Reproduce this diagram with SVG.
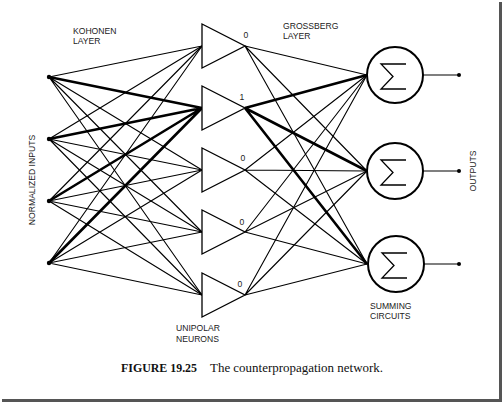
<svg xmlns="http://www.w3.org/2000/svg" width="503" height="403" viewBox="0 0 503 403">
<style>
.w{stroke:#000;stroke-width:1.1;fill:none}
.k{stroke:#000;stroke-width:2.6;fill:none}
.tri{fill:#fff;stroke:#000;stroke-width:1.3}
.sum{fill:#fff;stroke:#000;stroke-width:2}
.sig{fill:none;stroke:#000;stroke-width:1.3}
.lab{font-family:"Liberation Sans",Arial,sans-serif;font-size:8.6px;fill:#222}
.num{font-family:"Liberation Sans",Arial,sans-serif;font-size:8.6px;fill:#222;text-anchor:middle}
.cap{font-family:"Liberation Serif","Times New Roman",serif;font-size:12px;fill:#111}
</style>
<rect width="503" height="403" fill="#fff"/>
<g id="connectors">
<path class="w" d="M49,77L202,46M49,77L202,170M49,77L202,232M49,77L202,295"/>
<path class="w" d="M49,139L202,46M49,139L202,170M49,139L202,232M49,139L202,295"/>
<path class="w" d="M49,201L202,46M49,201L202,170M49,201L202,232M49,201L202,295"/>
<path class="w" d="M49,263L202,46M49,263L202,170M49,263L202,232M49,263L202,295"/>
<path class="k" d="M49,77L202,108M49,139L202,108M49,201L202,108M49,263L202,108"/>
<path class="w" d="M245,46L367,75M245,46L367,171M245,46L367,264"/>
<path class="w" d="M245,170L367,75M245,170L367,171M245,170L367,264"/>
<path class="w" d="M245,232L367,75M245,232L367,171M245,232L367,264"/>
<path class="w" d="M245,295L367,75M245,295L367,171M245,295L367,264"/>
<path class="k" d="M245,108L367,75M245,108L367,171M245,108L367,264"/>
<path class="w" stroke-width="1.4" d="M423,75H459M423,171H459M424,264H459"/>
</g>
<g id="inputs">
<circle cx="49" cy="77" r="2.2"/>
<circle cx="49" cy="139" r="2.2"/>
<circle cx="49" cy="201" r="2.2"/>
<circle cx="49" cy="263" r="2.2"/>
</g>
<g id="kohonen1"><polygon class="tri" points="202,24 202,68 245,46"/><text class="num" x="246" y="38">0</text></g>
<g id="kohonen2"><polygon class="tri" points="202,86 202,130 245,108"/><text class="num" x="242" y="100">1</text></g>
<g id="kohonen3"><polygon class="tri" points="202,148 202,192 245,170"/><text class="num" x="243" y="161">0</text></g>
<g id="kohonen4"><polygon class="tri" points="202,210 202,254 245,232"/><text class="num" x="242" y="225">0</text></g>
<g id="kohonen5"><polygon class="tri" points="202,273 202,317 245,295"/><text class="num" x="240" y="287">0</text></g>
<g id="sum1"><circle class="sum" cx="395" cy="75" r="28"/><path class="sig" d="M406,64H381L393,76.5L381,89H406"/></g>
<g id="sum2"><circle class="sum" cx="395" cy="171" r="28"/><path class="sig" d="M406,160H381L393,172.5L381,185H406"/></g>
<g id="sum3"><circle class="sum" cx="396" cy="264" r="28"/><path class="sig" d="M407,253H382L394,265.5L382,278H407"/></g>
<g id="outputs">
<circle cx="459" cy="75" r="2"/>
<circle cx="459" cy="171" r="2"/>
<circle cx="459" cy="264" r="2"/>
</g>
<g id="labels">
<text class="lab" x="73" y="34">KOHONEN</text>
<text class="lab" x="73" y="44">LAYER</text>
<text class="lab" x="283" y="29">GROSSBERG</text>
<text class="lab" x="283" y="39">LAYER</text>
<text class="lab" x="176" y="331">UNIPOLAR</text>
<text class="lab" x="176" y="341.5">NEURONS</text>
<text class="lab" x="370" y="309">SUMMING</text>
<text class="lab" x="370" y="319">CIRCUITS</text>
<text class="lab" text-anchor="middle" transform="translate(35,180) rotate(-90)">NORMALIZED INPUTS</text>
<text class="lab" text-anchor="middle" transform="translate(476,171) rotate(-90)">OUTPUTS</text>
</g>
<text class="cap" x="121" y="372" font-weight="bold" textLength="76" lengthAdjust="spacingAndGlyphs">FIGURE 19.25</text>
<text class="cap" x="210" y="372" textLength="173" lengthAdjust="spacingAndGlyphs">The counterpropagation network.</text>
<g id="frame">
<rect x="499" y="2" width="3" height="400" fill="#555"/>
<rect x="2" y="399" width="500" height="3" fill="#555"/>
</g>
</svg>
